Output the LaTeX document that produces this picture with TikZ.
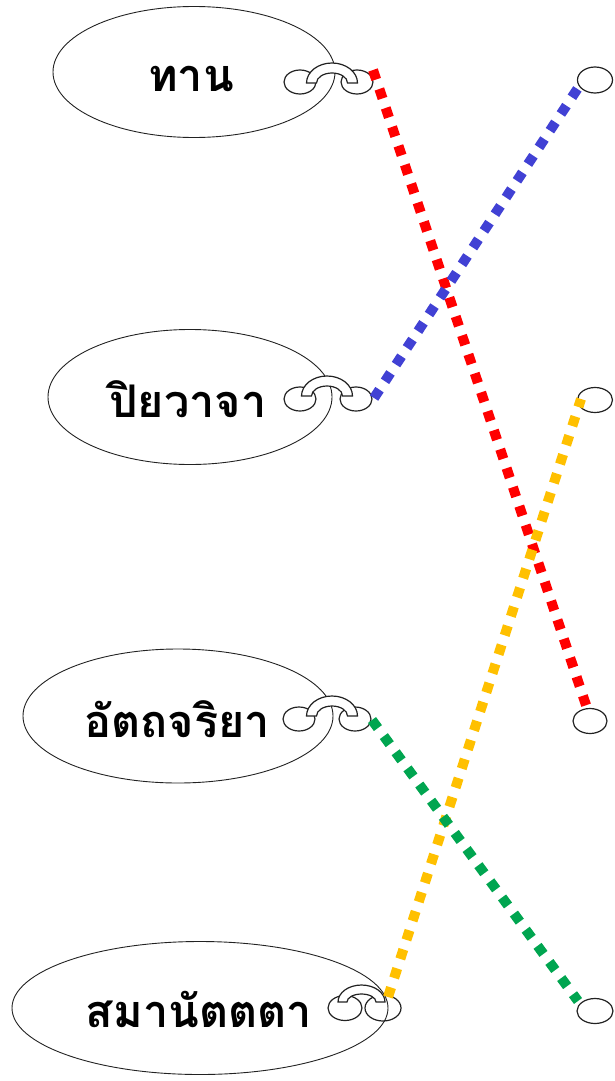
\documentclass[tikz,border=0pt]{standalone}
\usepackage{fontspec}
\newfontfamily\thaifont[Script=Thai]{Loma}
\usetikzlibrary{shapes.geometric}
\definecolor{lnred}{HTML}{FF0000}
\definecolor{lnblue}{HTML}{4141D4}
\definecolor{lngreen}{HTML}{00A550}
\definecolor{lnorange}{HTML}{FFC000}
\definecolor{edge}{HTML}{222222}
\newcommand{\chainarch}[5]{% cx, legs y, outer rx, outer ry, thickness
  \draw[archstyle] (#1-#3,#2) arc[start angle=180,end angle=0,x radius=#3pt,y radius=#4pt]
    -- (#1+#3-#5,#2) arc[start angle=0,end angle=180,x radius=#3pt-#5pt,y radius=#4pt-#5pt] -- cycle;}
\begin{document}
\begin{tikzpicture}[x=1pt,y=-1pt,
  bigell/.style={draw=edge, ellipse, line width=0.9pt, inner sep=0pt},
  lbl/.style={font=\thaifont\bfseries\fontsize{45}{50}\selectfont, anchor=base, inner sep=0pt},
  ring/.style={draw=edge, ellipse, line width=1.2pt, inner sep=0pt},
  archstyle/.style={draw=edge, fill=white, line width=1.2pt},
  link/.style={line width=10pt, dash pattern=on 10pt off 10pt}]
\useasboundingbox (0,0) rectangle (615,1081);
% big ellipses
\node[bigell, minimum width=282pt, minimum height=131pt] (e1) at (194,72) {};
\node[bigell, minimum width=284pt, minimum height=135pt] (e2) at (190,397) {};
\node[bigell, minimum width=310pt, minimum height=134pt] (e3) at (178,716) {};
\node[bigell, minimum width=376pt, minimum height=133pt] (e4) at (200,1008) {};
% labels
\node[lbl] (t1) at (191,91) {ทาน};
\node[lbl] (t2) at (188,417) {ปิยวาจา};
\node[lbl] (t3) at (177,737) {อัตถจริยา};
\node[lbl] (t4) at (199,1027) {สมานัตตตา};
% chain icons
\node[ring, minimum width=32pt, minimum height=24pt] (i1l) at (300,82) {};
\node[ring, minimum width=32pt, minimum height=24pt] (i1r) at (357,82) {};
\chainarch{332}{83}{25.5}{20}{10}
\node[ring, minimum width=32pt, minimum height=24pt] (i2l) at (300,399) {};
\node[ring, minimum width=32pt, minimum height=24pt] (i2r) at (356,399) {};
\chainarch{327}{396}{25.5}{20}{10}
\node[ring, minimum width=32pt, minimum height=24pt] (i3l) at (299,719) {};
\node[ring, minimum width=32pt, minimum height=24pt] (i3r) at (355,719) {};
\chainarch{332}{716}{25.5}{20}{10}
\node[ring, minimum width=34pt, minimum height=25pt] (i4l) at (345,1008) {};
\node[ring, minimum width=36pt, minimum height=26pt] (i4r) at (383,1008) {};
\chainarch{361.5}{1002}{23.5}{17}{9}
% right circles
\node[ring, minimum width=35pt, minimum height=26pt] (r1) at (595,80) {};
\node[ring, minimum width=35pt, minimum height=25pt] (r2) at (595,400) {};
\node[ring, minimum width=34pt, minimum height=25pt] (r3) at (590,721) {};
\node[ring, minimum width=36pt, minimum height=25pt] (r4) at (595,1011) {};
% connector ends
\coordinate (a1) at (373,70);
\coordinate (b3) at (589,714);
\coordinate (a2) at (374,398);
\coordinate (b1) at (578,88);
\coordinate (a4) at (388,997);
\coordinate (b2) at (581,399);
\coordinate (a3) at (372,720);
\coordinate (b4) at (578,1001);
% connectors
\draw[link, lnred] (a1) -- (b3);
\draw[link, lnblue] (a2) -- (b1);
\draw[link, lnorange] (a4) -- (b2);
\draw[link, lngreen] (a3) -- (b4);
\end{tikzpicture}
\end{document}
